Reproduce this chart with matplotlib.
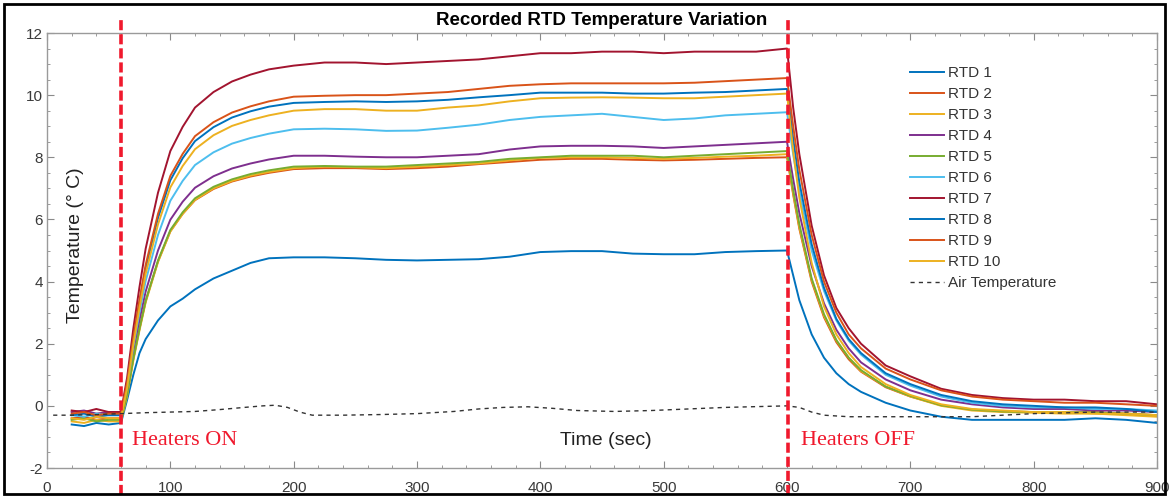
import matplotlib
matplotlib.use("Agg")
import matplotlib.pyplot as plt
from matplotlib.patches import Rectangle
from matplotlib.ticker import MultipleLocator

plt.rcParams['axes.unicode_minus'] = False
plt.rcParams['font.family'] = ['Liberation Sans', 'DejaVu Sans']

# ---------------- data ----------------
t = [20, 30, 40, 50, 60, 65, 70, 75, 80, 90, 100, 110, 120, 135, 150, 165, 180,
     200, 225, 250, 275, 300, 325, 350, 375, 400, 425, 450, 475, 500, 525, 550, 575, 600,
     605, 610, 620, 630, 640, 650, 660, 680, 700, 725, 750, 775, 800, 825, 850, 875, 900]

rtd1 = [-0.6, -0.65, -0.55, -0.6, -0.55,
        0.2, 1.0, 1.7, 2.15, 2.75, 3.2, 3.45, 3.75, 4.1, 4.35, 4.6, 4.75,
        4.78, 4.78, 4.75, 4.7, 4.68, 4.7, 4.72, 4.8, 4.95, 4.98, 4.98, 4.9, 4.88, 4.88, 4.95, 4.98, 5.0,
        4.2, 3.4, 2.3, 1.55, 1.05, 0.7, 0.45, 0.1, -0.15, -0.35, -0.45, -0.45, -0.45, -0.45, -0.4, -0.45, -0.55]
rtd2 = [-0.4, -0.35, -0.45, -0.4, -0.4,
        0.4, 1.52, 2.49, 3.37, 4.65, 5.62, 6.18, 6.62, 6.98, 7.22, 7.38, 7.5,
        7.62, 7.65, 7.65, 7.62, 7.65, 7.7, 7.78, 7.85, 7.92, 7.95, 7.95, 7.92, 7.9, 7.92, 7.95, 7.98, 8.0,
        6.8, 5.7, 4.0, 2.85, 2.05, 1.5, 1.1, 0.6, 0.3, 0.02, -0.12, -0.18, -0.2, -0.22, -0.2, -0.25, -0.3]
rtd3 = [-0.5, -0.55, -0.45, -0.5, -0.5,
        0.32, 1.46, 2.43, 3.33, 4.63, 5.61, 6.18, 6.63, 7.0, 7.24, 7.41, 7.53,
        7.65, 7.7, 7.68, 7.65, 7.7, 7.75, 7.8, 7.9, 7.98, 8.0, 8.0, 7.98, 7.95, 7.98, 8.02, 8.05, 8.1,
        6.85, 5.75, 4.05, 2.9, 2.1, 1.55, 1.12, 0.62, 0.3, 0.0, -0.15, -0.2, -0.22, -0.25, -0.25, -0.3, -0.35]
rtd4 = [-0.2, -0.15, -0.25, -0.2, -0.2,
        0.63, 1.78, 2.77, 3.68, 5.0, 5.99, 6.57, 7.02, 7.39, 7.64, 7.8, 7.93,
        8.05, 8.05, 8.02, 8.0, 8.0, 8.05, 8.1, 8.25, 8.35, 8.37, 8.37, 8.35, 8.3, 8.35, 8.4, 8.45, 8.5,
        7.3, 6.2, 4.5, 3.3, 2.45, 1.85, 1.4, 0.85, 0.5, 0.2, 0.05, -0.05, -0.1, -0.1, -0.15, -0.15, -0.2]
rtd5 = [-0.45, -0.4, -0.5, -0.45, -0.45,
        0.37, 1.51, 2.48, 3.38, 4.68, 5.66, 6.23, 6.68, 7.05, 7.29, 7.46, 7.58,
        7.7, 7.72, 7.7, 7.7, 7.75, 7.8, 7.85, 7.95, 8.0, 8.05, 8.05, 8.05, 8.0, 8.05, 8.1, 8.15, 8.2,
        6.95, 5.85, 4.1, 2.95, 2.12, 1.55, 1.15, 0.62, 0.32, 0.02, -0.12, -0.18, -0.2, -0.2, -0.22, -0.25, -0.3]
rtd6 = [-0.3, -0.35, -0.25, -0.3, -0.3,
        0.62, 1.91, 3.01, 4.02, 5.5, 6.6, 7.24, 7.75, 8.16, 8.44, 8.62, 8.76,
        8.9, 8.92, 8.9, 8.85, 8.86, 8.95, 9.05, 9.2, 9.3, 9.35, 9.4, 9.3, 9.2, 9.25, 9.35, 9.4, 9.45,
        8.1, 6.9, 5.0, 3.7, 2.75, 2.1, 1.65, 1.0, 0.65, 0.3, 0.1, 0.0, -0.05, -0.05, -0.1, -0.1, -0.15]
rtd7 = [-0.15, -0.2, -0.1, -0.2, -0.2,
        0.92, 2.49, 3.83, 5.06, 6.86, 8.2, 8.98, 9.6, 10.1, 10.44, 10.66, 10.83,
        10.95, 11.05, 11.05, 11.0, 11.05, 11.1, 11.15, 11.25, 11.35, 11.35, 11.4, 11.4, 11.35, 11.4, 11.4, 11.4, 11.5,
        9.6, 8.1, 5.8, 4.2, 3.15, 2.5, 2.0, 1.3, 0.95, 0.55, 0.35, 0.25, 0.2, 0.2, 0.15, 0.15, 0.05]
rtd8 = [-0.3, -0.25, -0.35, -0.3, -0.3,
        0.71, 2.12, 3.33, 4.44, 6.05, 7.26, 7.97, 8.52, 8.97, 9.28, 9.48, 9.63,
        9.75, 9.78, 9.8, 9.78, 9.8, 9.85, 9.93, 10.0, 10.08, 10.08, 10.08, 10.05, 10.05, 10.08, 10.1, 10.15, 10.2,
        8.6, 7.2, 5.2, 3.8, 2.8, 2.15, 1.7, 1.05, 0.7, 0.35, 0.15, 0.05, 0.0, -0.05, -0.05, -0.1, -0.2]
rtd9 = [-0.25, -0.2, -0.3, -0.25, -0.25,
        0.77, 2.2, 3.42, 4.54, 6.18, 7.4, 8.11, 8.68, 9.13, 9.44, 9.64, 9.8,
        9.95, 9.98, 10.0, 10.0, 10.05, 10.1, 10.2, 10.3, 10.35, 10.38, 10.38, 10.38, 10.38, 10.4, 10.45, 10.5, 10.55,
        9.0, 7.6, 5.5, 4.0, 3.0, 2.3, 1.85, 1.2, 0.85, 0.5, 0.3, 0.2, 0.15, 0.1, 0.1, 0.05, 0.0]
rtd10 = [-0.4, -0.45, -0.35, -0.4, -0.4,
         0.59, 1.98, 3.16, 4.25, 5.84, 7.03, 7.72, 8.26, 8.71, 9.01, 9.2, 9.35,
         9.5, 9.55, 9.55, 9.5, 9.5, 9.6, 9.67, 9.8, 9.9, 9.92, 9.93, 9.92, 9.9, 9.9, 9.95, 10.0, 10.05,
         8.2, 6.7, 4.6, 3.2, 2.3, 1.7, 1.25, 0.7, 0.35, 0.05, -0.1, -0.15, -0.2, -0.2, -0.25, -0.25, -0.3]

air_t = [5, 20, 40, 60, 80, 100, 120, 140, 160, 175, 185, 195, 205, 215, 240, 270, 300, 330, 350, 370,
         390, 410, 430, 460, 490, 520, 550, 580, 600, 610, 620, 630, 650, 700, 750, 800, 850, 900]
air = [-0.3, -0.3, -0.28, -0.25, -0.22, -0.2, -0.18, -0.12, -0.05, 0.0, 0.02, -0.05, -0.2, -0.3, -0.3,
       -0.28, -0.25, -0.18, -0.1, -0.05, -0.03, -0.08, -0.15, -0.18, -0.15, -0.1, -0.05, -0.02, 0.0,
       -0.05, -0.2, -0.3, -0.35, -0.35, -0.35, -0.25, -0.2, -0.2]

series = [rtd1, rtd2, rtd3, rtd4, rtd5, rtd6, rtd7, rtd8, rtd9, rtd10]
labels = ['RTD 1', 'RTD 2', 'RTD 3', 'RTD 4', 'RTD 5', 'RTD 6', 'RTD 7', 'RTD 8', 'RTD 9', 'RTD 10']
colors = ['#0072BD', '#D95319', '#EDB120', '#7E2F8E', '#77AC30', '#4DBEEE', '#A2142F',
          '#0072BD', '#D95319', '#EDB120']
heater_on = 60
heater_off = 601
xticks = [0, 100, 200, 300, 400, 500, 600, 700, 800, 900]
yticks = [-2, 0, 2, 4, 6, 8, 10, 12]

# ---------------- figure ----------------
W, H = 1169, 498
L, R, T, B = 47, 1157, 33, 468
fig = plt.figure(figsize=(W / 100, H / 100), dpi=100)
ax = fig.add_axes([L / W, 1 - B / H, (R - L) / W, (B - T) / H])

for y, lab, c in zip(series, labels, colors):
    ax.plot(t, y, color=c, lw=1.4, label=lab)
ax.plot(air_t, air, color='#333333', lw=1.0, ls=(0, (3, 3)), label='Air Temperature')

red = '#f0192d'
for xv in (heater_on, heater_off):
    ax.axvline(xv, ymin=-0.062, ymax=1.0345, color=red, lw=2.6, ls=(0, (2.8, 1.1)),
               clip_on=False, zorder=5)

ax.set_xlim(0, 900)
ax.set_ylim(-2, 12)
ax.set_xticks(xticks)
ax.set_yticks(yticks)
ax.xaxis.set_minor_locator(MultipleLocator(20))
ax.yaxis.set_minor_locator(MultipleLocator(0.5))
ax.tick_params(which='both', direction='in', top=True, right=True, color='#8a8a8a',
               labelcolor='#3a3a3a', labelsize=11)
ax.tick_params(which='major', length=5)
ax.tick_params(which='minor', length=2.5)
ax.tick_params(axis='x', pad=9)
ax.tick_params(axis='y', pad=3)
for s in ax.spines.values():
    s.set_color('#9a9a9a')
    s.set_linewidth(1.0)

ax.set_title('Recorded RTD Temperature Variation', fontsize=13.5, fontweight='bold', pad=6)

ax.text(453, -1.1, 'Time (sec)', fontsize=14, color='#222222', ha='center', va='center')
ax.text(23, 5.18, 'Temperature (° C)', fontsize=14, color='#222222', rotation=90,
        ha='center', va='center')
ax.text(69, -1.1, 'Heaters ON', fontsize=16, color=red, family=['Liberation Serif', 'DejaVu Serif'],
        ha='left', va='center')
ax.text(611, -1.1, 'Heaters OFF', fontsize=16, color=red, family=['Liberation Serif', 'DejaVu Serif'],
        ha='left', va='center')

leg = ax.legend(loc='upper left', bbox_to_anchor=((904 - L) / (R - L), (B - 60) / (B - T)),
                frameon=False, fontsize=11, handlelength=2.2, handletextpad=0.3,
                labelspacing=0.46, borderaxespad=0)
for txt in leg.get_texts():
    txt.set_color('#333333')

fig.patches.append(Rectangle((4 / W, 4 / H), 1161 / W, 490 / H, transform=fig.transFigure,
                             fill=False, edgecolor='black', lw=2))

fig.savefig('out.png', dpi=100)
